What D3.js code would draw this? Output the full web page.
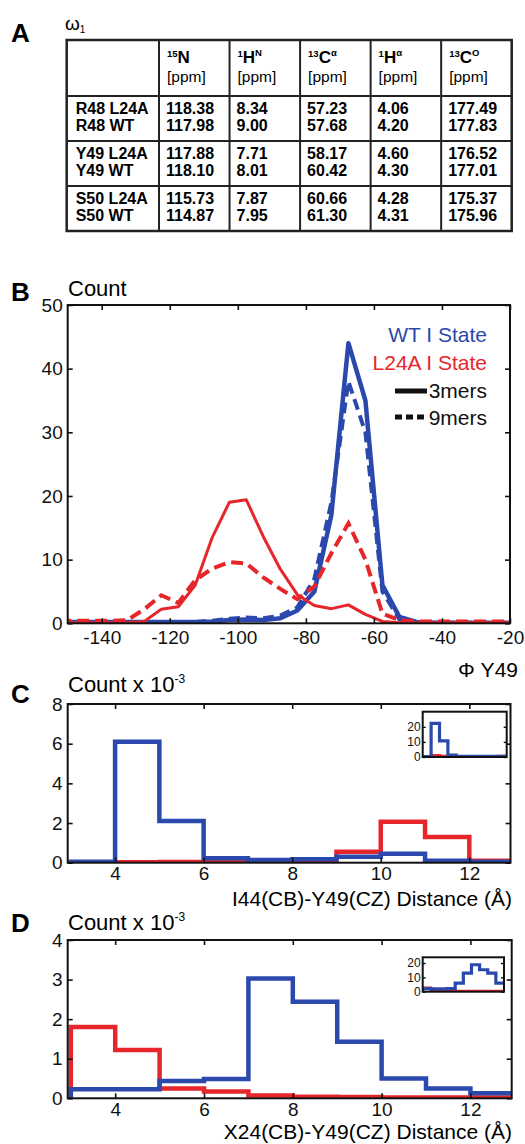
<!DOCTYPE html>
<html>
<head>
<meta charset="utf-8">
<script src="https://cdn.jsdelivr.net/npm/d3@7"></script>
<style>
body { margin: 0; background: #fff; }
svg { display: block; font-family: "Liberation Sans", Arial, Helvetica, sans-serif; }
</style>
</head>
<body>
<svg id="fig" width="525" height="1144"></svg>
<script>
'use strict';

// ---- panel A table ----
const rowLabels = ["R48 L24A", "R48 WT", "Y49 L24A", "Y49 WT", "S50 L24A", "S50 WT"];
const colIso = ["15", "1", "13", "1", "13"];
const colAtom = ["N", "H", "C", "H", "C"];
const colSup = ["", "N", "\u03b1", "\u03b1", "O"];
const shiftN = ["118.38", "117.98", "117.88", "118.10", "115.73", "114.87"];
const shiftHN = ["8.34", "9.00", "7.71", "8.01", "7.87", "7.95"];
const shiftCA = ["57.23", "57.68", "58.17", "60.42", "60.66", "61.30"];
const shiftHA = ["4.06", "4.20", "4.60", "4.30", "4.28", "4.31"];
const shiftCO = ["177.49", "177.83", "176.52", "177.01", "175.37", "175.96"];

// ---- panel B: phi Y49 distributions ----
const phiCenters = [-152.5, -147.5, -142.5, -137.5, -132.5, -127.5, -122.5, -117.5, -112.5, -107.5,
    -102.5, -97.5, -92.5, -87.5, -82.5, -77.5, -72.5, -67.5, -62.5, -57.5,
    -52.5, -47.5, -42.5, -37.5, -32.5, -27.5, -22.5, -17.5];
const wt3mers = [0.2, 0.2, 0.2, 0.2, 0.2, 0.2, 0.2, 0.2, 0.2, 0.3,
    0.5, 0.6, 0.5, 0.8, 2, 5, 17, 44, 35, 6,
    1, 0.2, 0.1, 0.1, 0.1, 0.1, 0.1, 0.1];
const wt9mers = [0.1, 0.1, 0.1, 0.1, 0.1, 0.1, 0.1, 0.1, 0.2, 0.4,
    0.7, 0.9, 0.8, 1.2, 2.5, 7, 19, 38, 30, 5,
    0.6, 0.2, 0.1, 0.1, 0.1, 0.1, 0.1, 0.1];
const l24a3mers = [0.1, 0.1, 0.1, 0.1, 0.1, 0.3, 2.2, 2.6, 6, 13.5,
    19, 19.4, 13.6, 8.5, 4.5, 2.8, 2.3, 2.9, 1.4, 0.3,
    0.1, 0.1, 0.1, 0.1, 0.1, 0.1, 0.1, 0.1];
const l24a9mers = [0.4, 0.4, 0.4, 0.4, 0.5, 2.2, 4.4, 3.2, 6.8, 8.6,
    9.6, 9.4, 7.2, 5.4, 3.8, 5.8, 11, 15.7, 10, 1.5,
    0.5, 0.3, 0.3, 0.3, 0.3, 0.3, 0.3, 0.3];
const phiTicks = [-140, -120, -100, -80, -60, -40, -20];
const countTicks = [0, 10, 20, 30, 40, 50];

// ---- panels C, D: distance histograms (bins of 1 A) ----
const distEdges = [3, 4, 5, 6, 7, 8, 9, 10, 11, 12, 13];
const distTicks = [4, 6, 8, 10, 12];
const i44Wt = [0.05, 6.1, 2.1, 0.22, 0.13, 0.18, 0.3, 0.45, 0.1, 0.05];
const i44L24a = [0.02, 0.02, 0.03, 0.03, 0.03, 0.03, 0.55, 2.07, 1.3, 0.1];
const i44WtInset = [0.3, 22.3, 10.7, 1.2, 0.5, 0.4, 0.4, 0.4, 0.4, 0.4];
const i44L24aInset = [0.2, 1, 0.5, 0.2, 0.2, 0.2, 0.2, 0.2, 0.3, 0.5];
const x24Wt = [0.23, 0.23, 0.44, 0.49, 3.03, 2.44, 1.43, 0.5, 0.25, 0.13];
const x24L24a = [1.8, 1.22, 0.25, 0.17, 0.07, 0.04, 0.03, 0.02, 0.02, 0.02];
const x24WtInset = [2.2, 2, 2, 2.2, 6, 13, 18.8, 15.3, 13, 6];
const x24L24aInset = [2.6, 0.8, 0.5, 0.4, 0.3, 0.3, 0.3, 0.3, 0.3, 0.3];
const cTicks = [0, 2, 4, 6, 8];
const dTicks = [0, 1, 2, 3, 4];
const insetTicks = [0, 10, 20];

const blue = "#2b48ad";
const red = "#e6262b";
const svg = d3.select("#fig");

svg.append("rect").attr("width", 525).attr("height", 1144).attr("fill", "#fff");

function panelLetter(t, y) {
    svg.append("text").attr("x", 11).attr("y", y)
        .style("font-size", "26px").style("font-weight", "bold").text(t);
}

// ---------------- A ----------------
panelLetter("A", 42);
let omega = svg.append("text").attr("x", 65).attr("y", 30).style("font-size", "19px");
omega.append("tspan").text("\u03c9");
omega.append("tspan").attr("dy", 3).style("font-size", "10px").text("1");

const tLeft = 66.7, tRight = 511.7, firstColW = 92.3;
const colX = d3.scaleBand().domain(d3.range(5)).range([tLeft + firstColW, tRight]);
const headTop = 40, headBottom = 96, tBottom = 231;
const blockY = d3.scaleBand().domain(d3.range(3)).range([headBottom, tBottom]);

const table = svg.append("g");
// header cells
colAtom.forEach(function (a, i) {
    let x = colX(i) + 8;
    let t = table.append("text").attr("x", x).attr("y", 63).style("font-size", "17px").style("font-weight", "bold");
    t.append("tspan").attr("dy", -6).style("font-size", "9.5px").text(colIso[i]);
    t.append("tspan").attr("dy", 6).text(a);
    if (colSup[i]) t.append("tspan").attr("dy", -7).style("font-size", "9.5px").text(colSup[i]);
    table.append("text").attr("x", x).attr("y", 82).style("font-size", "15.5px").text("[ppm]");
});
// body
const columns = [shiftN, shiftHN, shiftCA, shiftHA, shiftCO];
rowLabels.forEach(function (lab, r) {
    let b = Math.floor(r / 2);
    let y = blockY(b) + 18 + (r % 2) * 17;
    table.append("text").attr("x", tLeft + 9).attr("y", y)
        .style("font-size", "16px").style("font-weight", "bold").text(lab);
    columns.forEach(function (col, c) {
        table.append("text").attr("x", colX(c) + 7).attr("y", y)
            .style("font-size", "16px").style("font-weight", "bold").text(col[r]);
    });
});
// grid lines
table.append("rect").attr("x", tLeft).attr("y", headTop).attr("width", tRight - tLeft).attr("height", tBottom - headTop)
    .attr("fill", "none").attr("stroke", "#222").attr("stroke-width", 2.5);
d3.range(5).forEach(function (i) {
    table.append("line").attr("x1", colX(i)).attr("x2", colX(i)).attr("y1", headTop).attr("y2", tBottom)
        .attr("stroke", "#222").attr("stroke-width", 2);
});
d3.range(3).forEach(function (b) {
    table.append("line").attr("x1", tLeft).attr("x2", tRight).attr("y1", blockY(b)).attr("y2", blockY(b))
        .attr("stroke", "#222").attr("stroke-width", 2);
});

// plain hyphen minus like the original figure
const plainNum = function (d) { return String(d); };

// generic framed axes (matlab style, ticks inward on all four sides)
function frame(g, x, y, xt, yt, opts) {
    let fs = opts.fontSize || 19;
    let tl = opts.tick || 5;
    let bottom = d3.axisBottom(x).tickValues(xt).tickSize(-tl).tickPadding(opts.xPad || 7).tickFormat(plainNum);
    if (opts.noXLabels) bottom.tickFormat("");
    g.append("g").attr("transform", "translate(0," + y.range()[0] + ")").call(bottom);
    g.append("g").attr("transform", "translate(0," + y.range()[1] + ")")
        .call(d3.axisTop(x).tickValues(xt).tickSize(-tl).tickFormat(""));
    g.append("g").attr("transform", "translate(" + x.range()[0] + ",0)")
        .call(d3.axisLeft(y).tickValues(yt).tickSize(-tl).tickPadding(opts.yPad || 5).tickFormat(plainNum));
    g.append("g").attr("transform", "translate(" + x.range()[1] + ",0)")
        .call(d3.axisRight(y).tickValues(yt).tickSize(-tl).tickFormat(""));
    g.selectAll(".domain").remove();
    g.selectAll(".tick line").attr("stroke", "#111").attr("stroke-width", opts.tickW || 1.6);
    g.selectAll(".tick text").attr("fill", "#111").style("font-size", fs + "px")
        .style("font-family", "'Liberation Sans', Arial, sans-serif");
    g.append("rect").attr("x", x.range()[0]).attr("y", y.range()[1])
        .attr("width", x.range()[1] - x.range()[0]).attr("height", y.range()[0] - y.range()[1])
        .attr("fill", "none").attr("stroke", "#111").attr("stroke-width", opts.boxW || 2);
}

function clipFor(id, x, y) {
    svg.append("clipPath").attr("id", id).append("rect")
        .attr("x", x.range()[0]).attr("y", y.range()[1])
        .attr("width", x.range()[1] - x.range()[0]).attr("height", y.range()[0] - y.range()[1]);
    return "url(#" + id + ")";
}

// ---------------- B ----------------
panelLetter("B", 301);
svg.append("text").attr("x", 68).attr("y", 296).style("font-size", "22px").text("Count");

const xB = d3.scaleLinear().domain([-150, -20]).range([67.7, 510]);
const yB = d3.scaleLinear().domain([0, 50]).range([623.3, 305]);
const gB = svg.append("g");
const clipB = clipFor("clipB", xB, yB);

const lineB = d3.line().x(function (d) { return xB(d[0]); }).y(function (d) { return yB(d[1]); });
function phiSeries(vals) { return phiCenters.map(function (c, i) { return [c, vals[i]]; }); }

const bLines = gB.append("g").attr("clip-path", clipB);
bLines.append("path").attr("d", lineB(phiSeries(wt3mers)))
    .attr("fill", "none").attr("stroke", blue).attr("stroke-width", 4.5).attr("stroke-linejoin", "round");
bLines.append("path").attr("d", lineB(phiSeries(wt9mers)))
    .attr("fill", "none").attr("stroke", blue).attr("stroke-width", 4).attr("stroke-dasharray", "11,6");
bLines.append("path").attr("d", lineB(phiSeries(l24a3mers)))
    .attr("fill", "none").attr("stroke", red).attr("stroke-width", 3).attr("stroke-linejoin", "round");
bLines.append("path").attr("d", lineB(phiSeries(l24a9mers)))
    .attr("fill", "none").attr("stroke", red).attr("stroke-width", 4).attr("stroke-dasharray", "12,6");

frame(gB, xB, yB, phiTicks, countTicks, {});

// legend
const legX = 487;
const leg = svg.append("g").style("font-size", "21px").attr("text-anchor", "end");
leg.append("text").attr("x", legX).attr("y", 342).attr("fill", blue).text("WT I State");
leg.append("text").attr("x", legX).attr("y", 370).attr("fill", red).text("L24A I State");
leg.append("text").attr("x", legX).attr("y", 398).attr("fill", "#111").text("3mers");
leg.append("text").attr("x", legX).attr("y", 425).attr("fill", "#111").text("9mers");
leg.append("line").attr("x1", 395).attr("x2", 427).attr("y1", 391).attr("y2", 391)
    .attr("stroke", "#111").attr("stroke-width", 5);
leg.append("line").attr("x1", 395).attr("x2", 427).attr("y1", 417).attr("y2", 417)
    .attr("stroke", "#111").attr("stroke-width", 5).attr("stroke-dasharray", "7,4");

svg.append("text").attr("x", 518).attr("y", 677).attr("text-anchor", "end").style("font-size", "21px").text("\u03a6 Y49");

// ---------------- C / D ----------------
const stepLine = d3.line().curve(d3.curveStepAfter);
function stepPath(x, y, vals) {
    let pts = [[x(distEdges[0]), y(0)]];
    distEdges.slice(0, -1).forEach(function (e, i) { pts.push([x(e), y(vals[i])]); });
    pts.push([x(distEdges[distEdges.length - 1]), y(vals[vals.length - 1])]);
    return stepLine(pts);
}

function histPanel(opt) {
    panelLetter(opt.letter, opt.letterY);
    let lab = svg.append("text").attr("x", 68).attr("y", opt.countY).style("font-size", "22px");
    lab.append("tspan").text("Count x 10");
    lab.append("tspan").attr("dy", -9).style("font-size", "12px").text("-3");

    let x = d3.scaleLinear().domain([2.93, 12.93]).range(opt.xr);
    let y = d3.scaleLinear().domain(opt.yDom).range(opt.yr);
    let g = svg.append("g");
    let lines = g.append("g").attr("clip-path", clipFor("clip" + opt.letter, x, y));
    lines.append("path").attr("d", stepPath(x, y, opt.red))
        .attr("fill", "none").attr("stroke", red).attr("stroke-width", 4.5);
    lines.append("path").attr("d", stepPath(x, y, opt.blue))
        .attr("fill", "none").attr("stroke", blue).attr("stroke-width", 4.5);
    frame(g, x, y, distTicks, opt.yTicks, { xPad: 4 });

    // inset
    let xi = d3.scaleLinear().domain([3, 13]).range(opt.ixr);
    let yi = d3.scaleLinear().domain(opt.iyDom).range(opt.iyr);
    let gi = svg.append("g");
    gi.append("rect").attr("x", opt.ixr[0]).attr("y", opt.iyr[1])
        .attr("width", opt.ixr[1] - opt.ixr[0]).attr("height", opt.iyr[0] - opt.iyr[1]).attr("fill", "#fff");
    let il = gi.append("g").attr("clip-path", clipFor("clipI" + opt.letter, xi, yi));
    il.append("path").attr("d", stepPath(xi, yi, opt.redInset))
        .attr("fill", "none").attr("stroke", red).attr("stroke-width", 2.8);
    il.append("path").attr("d", stepPath(xi, yi, opt.blueInset))
        .attr("fill", "none").attr("stroke", blue).attr("stroke-width", 3.2);
    frame(gi, xi, yi, [], insetTicks, { fontSize: 12, tick: 3, yPad: 2, boxW: 2, tickW: 1.4, noXLabels: true });

    svg.append("text").attr("x", 512).attr("y", opt.xLabY).attr("text-anchor", "end")
        .style("font-size", "21px").text(opt.xLab);
}

histPanel({
    letter: "C", letterY: 703, countY: 692,
    xr: [67.7, 510.5], yr: [862.7, 704], yDom: [0, 8], yTicks: cTicks,
    blue: i44Wt, red: i44L24a,
    ixr: [422.7, 506.7], iyr: [757, 711.7], iyDom: [0, 30],
    blueInset: i44WtInset, redInset: i44L24aInset,
    xLabY: 906, xLab: "I44(CB)-Y49(CZ) Distance (\u00c5)"
});

histPanel({
    letter: "D", letterY: 932, countY: 930,
    xr: [67.7, 511.7], yr: [1098.3, 940], yDom: [0, 4], yTicks: dTicks,
    blue: x24Wt, red: x24L24a,
    ixr: [422.7, 504], iyr: [991.7, 957.3], iyDom: [0, 24],
    blueInset: x24WtInset, redInset: x24L24aInset,
    xLabY: 1139, xLab: "X24(CB)-Y49(CZ) Distance (\u00c5)"
});
</script>
</body>
</html>
